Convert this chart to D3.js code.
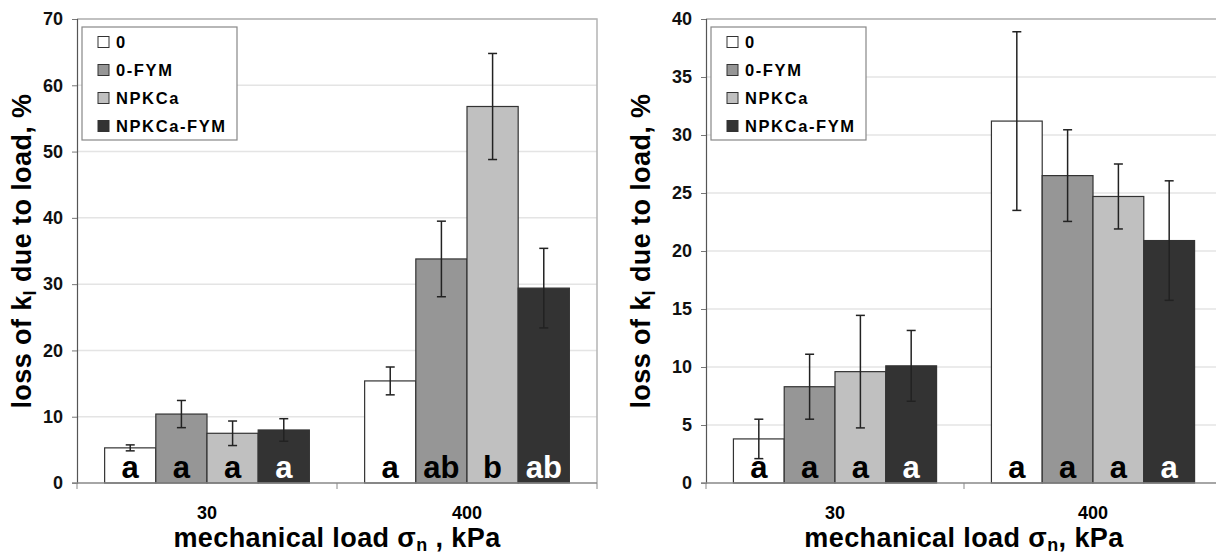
<!DOCTYPE html>
<html lang="en">
<head>
<meta charset="UTF-8">
<title>loss of kl due to load</title>
<script src="https://d3js.org/d3.v7.min.js"></script>
<style>
    body { margin: 0; background: #fff; }
    svg { display: block; font-family: Arial, "Liberation Sans", sans-serif; }
    .tick text { font-weight: bold; font-size: 18px; fill: #111; }
</style>
</head>
<body>
<svg width="1216" height="556"></svg>
<script>
    // categories and series
    const categories = ["30", "400"];
    const series = ["0", "0-FYM", "NPKCa", "NPKCa-FYM"];

    // left panel: means and +/- error, one row per load
    const leftMeans = [[5.3, 10.4, 7.5, 8.0], [15.4, 33.8, 56.8, 29.4]];
    const leftErrors = [[0.45, 2.05, 1.85, 1.7], [2.1, 5.7, 8.0, 6.0]];
    const leftLetters = [["a", "a", "a", "a"], ["a", "ab", "b", "ab"]];
    const leftTicks = [0, 10, 20, 30, 40, 50, 60, 70];

    // right panel
    const rightMeans = [[3.8, 8.3, 9.6, 10.1], [31.2, 26.5, 24.7, 20.9]];
    const rightErrors = [[1.7, 2.8, 4.85, 3.05], [7.7, 3.95, 2.8, 5.15]];
    const rightLetters = [["a", "a", "a", "a"], ["a", "a", "a", "a"]];
    const rightTicks = [0, 5, 10, 15, 20, 25, 30, 35, 40];

    const fillColor = d3.scaleOrdinal().domain(series).range(["#ffffff", "#969696", "#c0c0c0", "#333333"]);
    const letterColor = d3.scaleOrdinal().domain(series).range(["#000", "#000", "#000", "#fff"]);

    const svg = d3.select("svg");

    function drawPanel(p) {
        const g = svg.append("g");

        const y = d3.scaleLinear().domain([0, p.yMax]).range([p.bottom, p.top]);
        const x0 = d3.scaleBand().domain(categories).range([p.left, p.right]);
        const x1 = d3.scaleBand().domain(series).range([0, x0.bandwidth()]).paddingOuter(0.54);

        // grid lines
        g.append("g").selectAll("line")
            .data(p.ticks.slice(1))
            .join("line")
            .attr("x1", p.left).attr("x2", p.right)
            .attr("y1", d => y(d)).attr("y2", d => y(d))
            .attr("stroke", "#e4e4e4").attr("stroke-width", 1.5);

        // frame top/right
        g.append("path")
            .attr("d", `M${p.left},${p.top}H${p.right}V${p.bottom}`)
            .attr("fill", "none").attr("stroke", "#b4b4b4").attr("stroke-width", 1.5);

        // bars
        const groups = g.append("g").selectAll("g")
            .data(categories)
            .join("g")
            .attr("transform", d => `translate(${x0(d)},0)`);

        const rows = groups.selectAll("g")
            .data((c, ci) => series.map((s, si) => ({
                s: s, v: p.means[ci][si], e: p.errors[ci][si], lab: p.letters[ci][si]
            })))
            .join("g");

        rows.append("rect")
            .attr("x", d => x1(d.s))
            .attr("y", d => y(d.v))
            .attr("width", x1.bandwidth())
            .attr("height", d => y(0) - y(d.v))
            .attr("fill", d => fillColor(d.s))
            .attr("stroke", "#333").attr("stroke-width", 1.2);

        rows.append("text")
            .attr("x", d => x1(d.s) + x1.bandwidth() / 2)
            .attr("y", p.bottom - 5)
            .attr("text-anchor", "middle")
            .attr("font-size", "31px").attr("font-weight", "bold")
            .attr("fill", d => letterColor(d.s))
            .text(d => d.lab);

        // error bars
        const err = rows.append("g").attr("stroke", "#222").attr("stroke-width", 1.5);
        err.append("line")
            .attr("x1", d => x1(d.s) + x1.bandwidth() / 2)
            .attr("x2", d => x1(d.s) + x1.bandwidth() / 2)
            .attr("y1", d => y(d.v + d.e)).attr("y2", d => y(d.v - d.e));
        [1, -1].forEach(sign => {
            err.append("line")
                .attr("x1", d => x1(d.s) + x1.bandwidth() / 2 - 4.5)
                .attr("x2", d => x1(d.s) + x1.bandwidth() / 2 + 4.5)
                .attr("y1", d => y(d.v + sign * d.e)).attr("y2", d => y(d.v + sign * d.e));
        });

        // y axis
        const yAxis = g.append("g")
            .attr("transform", `translate(${p.left},0)`)
            .call(d3.axisLeft(y).tickValues(p.ticks).tickSize(5).tickPadding(9));
        yAxis.select(".domain").attr("stroke", "#555").attr("stroke-width", 1.2);
        yAxis.selectAll(".tick line").attr("stroke", "#777");

        // x axis
        g.append("line")
            .attr("x1", p.left - 5).attr("x2", p.right)
            .attr("y1", p.bottom).attr("y2", p.bottom)
            .attr("stroke", "#888").attr("stroke-width", 1.5);
        g.append("g").selectAll("line")
            .data(categories.map(c => x0(c)).concat([p.right]))
            .join("line")
            .attr("x1", d => d).attr("x2", d => d)
            .attr("y1", p.bottom).attr("y2", p.bottom + 6)
            .attr("stroke", "#888");
        g.append("g").selectAll("text")
            .data(categories)
            .join("text")
            .attr("x", d => x0(d) + x0.bandwidth() / 2)
            .attr("y", p.bottom + 36)
            .attr("text-anchor", "middle")
            .attr("font-size", "18px").attr("font-weight", "bold")
            .text(d => d);

        // axis titles
        const xt = g.append("text")
            .attr("x", p.xTitleX).attr("y", 547)
            .attr("text-anchor", "middle")
            .attr("font-size", "27px").attr("font-weight", "bold")
            .attr("letter-spacing", "0.4px");
        xt.append("tspan").text("mechanical load σ");
        xt.append("tspan").attr("font-size", "18px").attr("dy", 4).text("n");
        xt.append("tspan").attr("dy", -4).text(p.xTitleTail);

        const yt = g.append("text")
            .attr("transform", `translate(${p.yTitleX},${(p.top + p.bottom) / 2}) rotate(-90)`)
            .attr("text-anchor", "middle")
            .attr("font-size", "27px").attr("font-weight", "bold")
            .attr("letter-spacing", "0.4px");
        yt.append("tspan").text("loss of k");
        yt.append("tspan").attr("font-size", "18px").attr("dy", 5).text("l");
        yt.append("tspan").attr("dy", -5).text(" due to load, %");

        // legend
        const lg = g.append("g").attr("transform", `translate(${p.legendX},27)`);
        lg.append("rect")
            .attr("width", 155).attr("height", 113)
            .attr("fill", "#fff").attr("stroke", "#888").attr("stroke-width", 1.2);
        const items = lg.selectAll("g.item")
            .data(series)
            .join("g").attr("class", "item")
            .attr("transform", (d, i) => `translate(16,${15 + i * 28})`);
        items.append("rect")
            .attr("x", 0).attr("y", -5.5).attr("width", 11).attr("height", 11)
            .attr("fill", d => fillColor(d)).attr("stroke", "#333");
        items.append("text")
            .attr("x", 18).attr("y", 6)
            .attr("font-size", "16.5px").attr("font-weight", "bold")
            .attr("letter-spacing", "1.6px")
            .text(d => d);
    }

    drawPanel({
        left: 77, right: 597, top: 19, bottom: 483, yMax: 70, ticks: leftTicks,
        means: leftMeans, errors: leftErrors, letters: leftLetters,
        xTitleX: 337, xTitleTail: " , kPa", yTitleX: 31, legendX: 82
    });
    drawPanel({
        left: 706, right: 1222, top: 19, bottom: 483, yMax: 40, ticks: rightTicks,
        means: rightMeans, errors: rightErrors, letters: rightLetters,
        xTitleX: 964, xTitleTail: ", kPa", yTitleX: 650, legendX: 711
    });
</script>
</body>
</html>
